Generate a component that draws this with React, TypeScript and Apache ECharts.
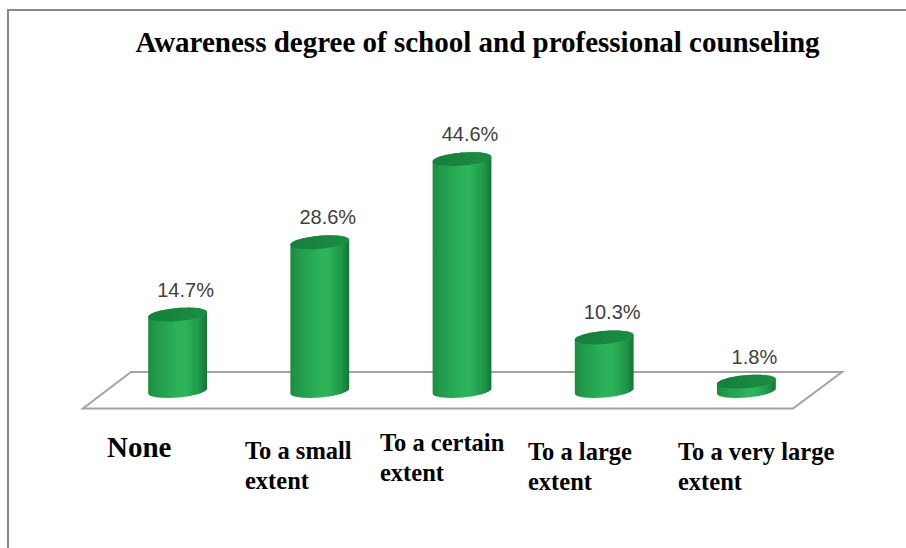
import React, { useEffect, useRef } from "react";
import * as echarts from "echarts";

const chartTitle = "Awareness degree of school and professional counseling";
const categories = [
  "None",
  "To a small\nextent",
  "To a certain\nextent",
  "To a large\nextent",
  "To a very large\nextent",
];
const values = [14.7, 28.6, 44.6, 10.3, 1.8];
const valueLabels = values.map((v) => v.toFixed(1) + "%");
const axisMin = 0;
const axisMax = 50;

// layout of category text boxes (left x, center y of first line, font size)
const catLabelLayout = [
  { x: 107, y: 447, size: 29 },
  { x: 245, y: 450, size: 24.5 },
  { x: 380, y: 442, size: 24.5 },
  { x: 528, y: 451, size: 24.5 },
  { x: 678, y: 451, size: 24.5 },
];

const TILT = 0.085;

function ellPts(cx: number, cy: number, rx: number, ry: number, a: number, t0: number, t1: number, n: number) {
  const pts: number[][] = [];
  for (let i = 0; i <= n; i++) {
    const t = t0 + ((t1 - t0) * i) / n;
    const u = rx * Math.cos(t);
    const v = ry * Math.sin(t);
    pts.push([cx + u * Math.cos(a) + v * Math.sin(a), cy - u * Math.sin(a) + v * Math.cos(a)]);
  }
  return pts;
}

export default function App() {
  const ref = useRef<HTMLDivElement>(null);
  useEffect(() => {
    if (!ref.current) return;
    const chart = echarts.init(ref.current, null, { renderer: "svg" });
    const option: any = {
      animation: false,
      backgroundColor: "#ffffff",
      grid: { left: 106.5, right: 88.5, top: 131, bottom: 157 },
      xAxis: { type: "category", data: categories, show: false },
      yAxis: { type: "value", min: axisMin, max: axisMax, show: false },
      graphic: [
        {
          type: "polyline",
          shape: { points: [[8, 548], [8, 10], [906, 10]] },
          style: { stroke: "#898989", lineWidth: 2, fill: "none" },
          silent: true,
        },
        {
          type: "text",
          x: 477.5,
          y: 42,
          style: {
            text: chartTitle,
            fill: "#000",
            font: 'bold 29px "Liberation Serif", "Times New Roman", serif',
            align: "center",
            verticalAlign: "middle",
          },
          silent: true,
        },
        ...categories.map((c, i) => ({
          type: "text",
          x: catLabelLayout[i].x,
          y: catLabelLayout[i].y - 15,
          style: {
            text: c,
            fill: "#000",
            font: `bold ${catLabelLayout[i].size}px "Liberation Serif", "Times New Roman", serif`,
            lineHeight: 30,
            align: "left",
            verticalAlign: "top",
          },
          silent: true,
        })),
      ],
      series: [
        {
          type: "custom",
          silent: true,
          data: [[0, 0]],
          encode: { x: 0, y: 1 },
          renderItem: (params: any, api: any) => {
            const cs = params.coordSys;
            const by = api.coord([0, 0])[1];
            const gl = cs.x;
            const gr = cs.x + cs.width;
            return {
              type: "polygon",
              shape: {
                points: [
                  [gl + 24.5, by - 19],
                  [gr + 24.5, by - 19],
                  [gr - 24.5, by + 17.5],
                  [gl - 23.5, by + 17.5],
                ],
              },
              style: { fill: "#ffffff", stroke: "#a3a3a3", lineWidth: 2 },
            };
          },
        },
        {
          type: "custom",
          silent: true,
          data: values.map((v, i) => [i, v]),
          encode: { x: 0, y: 1 },
          renderItem: (params: any, api: any) => {
            const i = api.value(0);
            const v = api.value(1);
            const top = api.coord([i, v]);
            const bot = api.coord([i, 0]);
            const cx = top[0];
            const rx = (api.size([1, 0])[0] * 0.415) / 2;
            const ry = 6.5;
            const body = ellPts(cx, bot[1], rx, ry, TILT, 0, Math.PI, 30).concat(
              ellPts(cx, top[1], rx, ry, TILT, Math.PI, 2 * Math.PI, 30)
            );
            const cap = ellPts(cx, top[1], rx, ry, TILT, 0, 2 * Math.PI, 60);
            return {
              type: "group",
              children: [
                {
                  type: "polygon",
                  shape: { points: body },
                  style: {
                    fill: new echarts.graphic.LinearGradient(0, 0, 1, 0, [
                      { offset: 0, color: "#1a8c40" },
                      { offset: 0.12, color: "#20994a" },
                      { offset: 0.5, color: "#2cb259" },
                      { offset: 0.63, color: "#2db45b" },
                      { offset: 0.86, color: "#1f9848" },
                      { offset: 1, color: "#127636" },
                    ]),
                  },
                },
                {
                  type: "polygon",
                  shape: { points: cap },
                  style: {
                    fill: new echarts.graphic.LinearGradient(0, 0, 1, 0, [
                      { offset: 0, color: "#157f3b" },
                      { offset: 1, color: "#1c8d43" },
                    ]),
                  },
                },
                {
                  type: "text",
                  x: cx + 8,
                  y: top[1] - 25,
                  style: {
                    text: valueLabels[params.dataIndex],
                    fill: "#404040",
                    font: '20px "Liberation Sans", Arial, sans-serif',
                    align: "center",
                    verticalAlign: "middle",
                  },
                },
              ],
            };
          },
        },
      ],
    };
    chart.setOption(option);
    return () => chart.dispose();
  }, []);
  return (
    <div
      ref={ref}
      style={{ position: "fixed", left: 0, top: 0, width: 906, height: 548 }}
    />
  );
}
